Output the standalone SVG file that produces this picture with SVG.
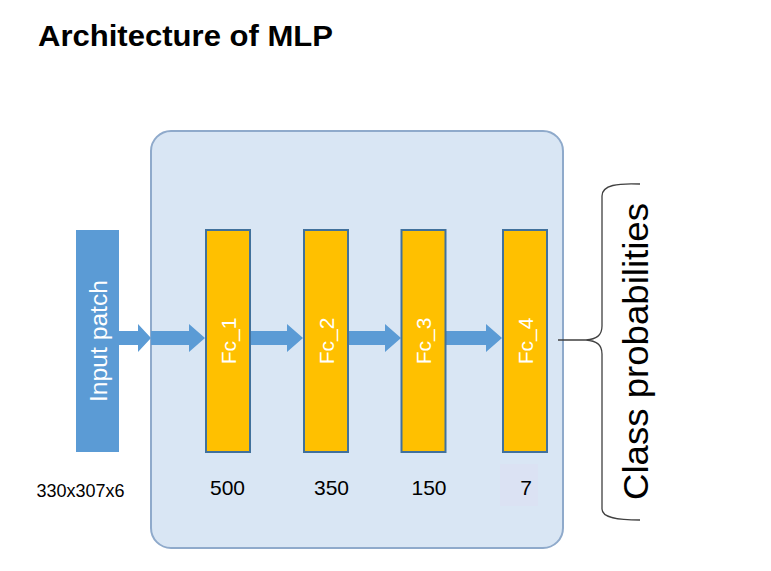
<svg xmlns="http://www.w3.org/2000/svg" width="771" height="571" viewBox="0 0 771 571">
<defs>
<style>
.t{font-family:"Liberation Sans",Arial,sans-serif;}
.fc{fill:#FFC000;stroke:#41719C;stroke-width:2;}
.lbl{fill:#FFFFFF;font-size:21px;text-anchor:middle;}
.num{fill:#000000;font-size:21px;text-anchor:middle;}
.arr{fill:#5B9BD5;}
</style>
</defs>
<rect width="771" height="571" fill="#FFFFFF"/>
<text class="t" x="38" y="46" font-size="30" font-weight="bold" textLength="295" lengthAdjust="spacingAndGlyphs" fill="#000">Architecture of MLP</text>

<g id="container">
<rect x="151" y="131" width="412" height="417" rx="20" ry="20" fill="#D9E6F4" stroke="#8FAACB" stroke-width="2"/>
</g>

<g id="input-patch">
<rect x="76" y="230" width="43" height="222" fill="#5B9BD5"/>
<text class="t" transform="translate(97.5,341) rotate(-90)" dy="9.5" font-size="23" fill="#FFFFFF" text-anchor="middle" textLength="122" lengthAdjust="spacingAndGlyphs">Input patch</text>
</g>

<g id="connectors">
<polygon class="arr" points="119,331 138,331 138,324 151,338 138,352 138,345 119,345"/>
<polygon class="arr" points="151,331 189,331 189,324 205,338 189,352 189,345 151,345"/>
<polygon class="arr" points="250,331 287,331 287,324 303,338 287,352 287,345 250,345"/>
<polygon class="arr" points="348,331 385,331 385,324 401,338 385,352 385,345 348,345"/>
<polygon class="arr" points="446,331 486,331 486,324 502,338 486,352 486,345 446,345"/>
</g>

<g id="fc1">
<rect class="fc" x="206" y="230" width="44" height="222"/>
<text class="t lbl" transform="translate(228,341) rotate(-90)" dy="7.5">Fc_1</text>
</g>
<g id="fc2">
<rect class="fc" x="304" y="230" width="44" height="222"/>
<text class="t lbl" transform="translate(326,341) rotate(-90)" dy="7.5">Fc_2</text>
</g>
<g id="fc3">
<rect class="fc" x="401.5" y="230" width="44" height="222"/>
<text class="t lbl" transform="translate(423.5,341) rotate(-90)" dy="7.5">Fc_3</text>
</g>
<g id="fc4">
<rect class="fc" x="503" y="230" width="44" height="222"/>
<text class="t lbl" transform="translate(525,341) rotate(-90)" dy="7.5">Fc_4</text>
</g>

<g id="sizes">
<text class="t" x="36.5" y="496.5" font-size="18" fill="#000">330x307x6</text>
<text class="t num" x="227.5" y="495">500</text>
<text class="t num" x="331.5" y="495">350</text>
<text class="t num" x="429" y="495">150</text>
<rect x="500" y="464" width="38" height="42" fill="#DBE2F3"/>
<text class="t num" x="526" y="495">7</text>
</g>

<g id="class-probabilities">
<path d="M640,184 C618,183 602,185 602,196 L602,326 C602,336 596,339 586,340 L558,340 M586,340 C596,341 602,344 602,354 L602,509 C602,518 618,520 640,520" fill="none" stroke="#404040" stroke-width="1.3"/>
<text class="t" transform="translate(648,351.5) rotate(-90)" font-size="35" fill="#000" text-anchor="middle" textLength="297" lengthAdjust="spacingAndGlyphs">Class probabilities</text>
</g>
</svg>
